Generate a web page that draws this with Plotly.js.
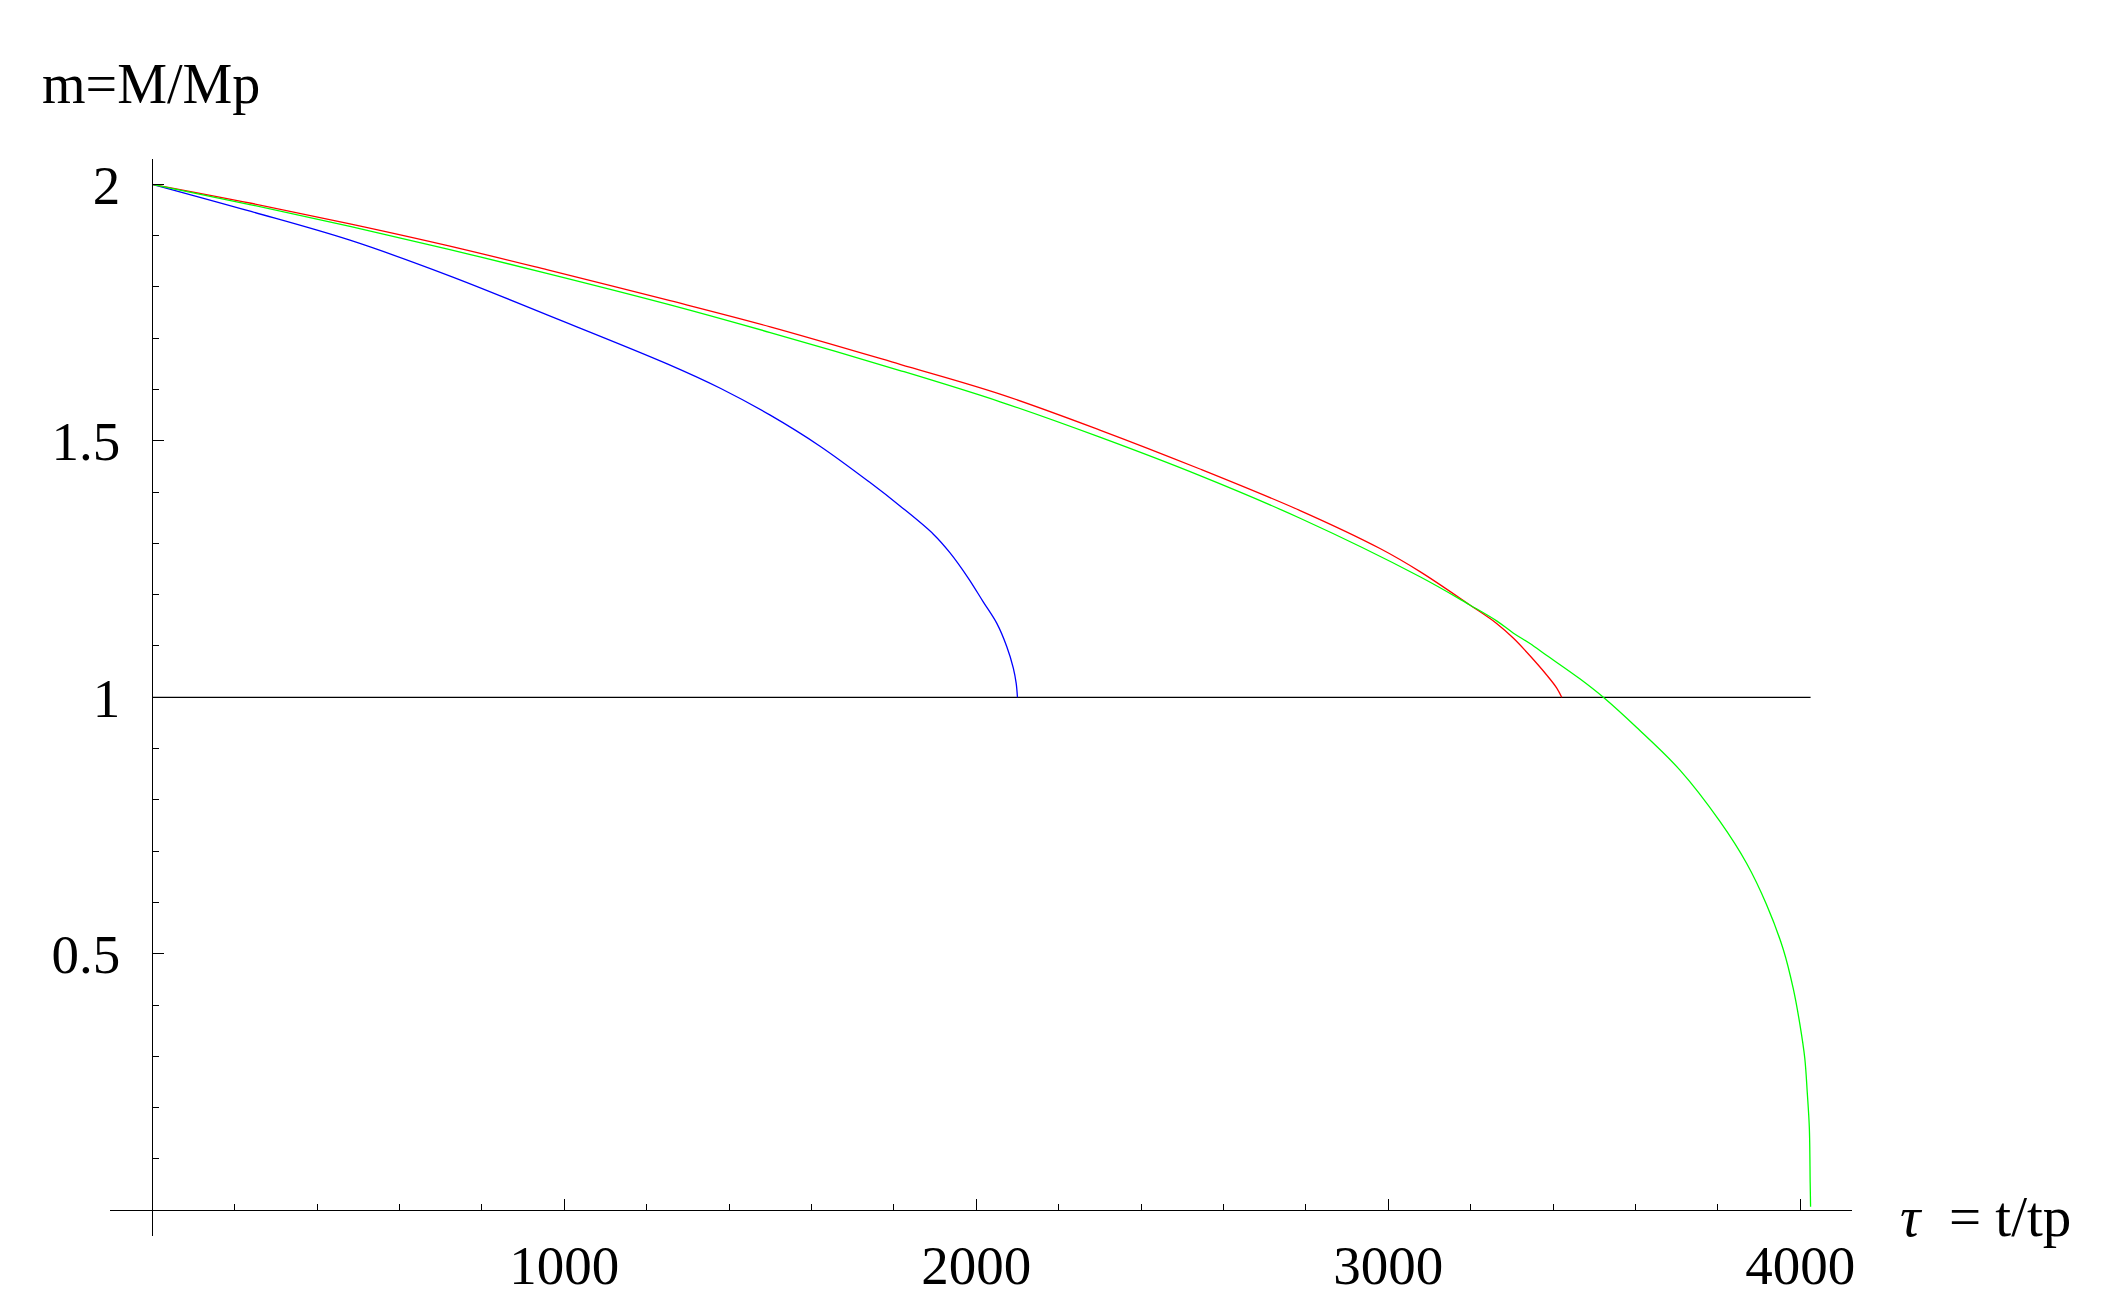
<!DOCTYPE html>
<html>
<head>
<meta charset="utf-8">
<script src="https://cdn.plot.ly/plotly-3.0.1.min.js"></script>
<style>
  html, body { margin: 0; padding: 0; background: #fff; }
  #plot { width: 2101px; height: 1311px; }
</style>
</head>
<body>
<div id="plot"></div>
<script>
// values: tau = t/tp, m = M/Mp
var tauBlue = [0, 240, 480, 720, 960, 1250, 1380, 1500, 1620, 1740, 1815, 1896, 1936, 1981, 2017, 2050, 2074, 2090, 2097, 2100];
var mBlue   = [2.000, 1.947, 1.891, 1.822, 1.745, 1.650, 1.602, 1.550, 1.490, 1.420, 1.373, 1.318, 1.282, 1.232, 1.186, 1.144, 1.099, 1.057, 1.027, 1.000];

var tauRed = [0, 240, 480, 720, 960, 1257, 1500, 1815, 2058, 2300, 2543, 2786, 2980, 3077, 3198, 3263, 3304, 3344, 3384, 3409, 3421];
var mRed   = [2.000, 1.963, 1.923, 1.880, 1.833, 1.773, 1.722, 1.649, 1.591, 1.521, 1.445, 1.364, 1.290, 1.245, 1.180, 1.144, 1.115, 1.081, 1.044, 1.018, 1.000];

var tauGreen = [0, 240, 480, 720, 960, 1257, 1500, 1815, 2058, 2300, 2543, 2786, 3077, 3198, 3263, 3304, 3344, 3384, 3465, 3522,
                3603, 3708, 3805, 3870, 3918, 3959, 3983, 3999, 4011, 4017, 4022, 4024, 4025];
var mGreen   = [2.000, 1.960, 1.918, 1.873, 1.826, 1.765, 1.711, 1.637, 1.576, 1.507, 1.432, 1.349, 1.235, 1.180, 1.149, 1.125, 1.105, 1.082, 1.036, 1.000,
                0.941, 0.858, 0.758, 0.676, 0.596, 0.508, 0.432, 0.363, 0.296, 0.229, 0.161, 0.054, 0.007];

var tauOne = [0, 4025];
var mOne   = [1, 1];

var xTicks = [1000, 2000, 3000, 4000];
var yTicks = [0.5, 1, 1.5, 2];

var serif = "Liberation Serif, Times New Roman, serif";

function curve(x, y, color, shape) {
    return {
        x: x, y: y, type: "scatter", mode: "lines",
        line: { color: color, width: 1.3, shape: shape, smoothing: 1 },
        hoverinfo: "skip"
    };
}

var plotData = [
    curve(tauOne, mOne, "#000000", "linear"),
    curve(tauBlue, mBlue, "#0000ff", "spline"),
    curve(tauRed, mRed, "#ff0000", "spline"),
    curve(tauGreen, mGreen, "#00ff00", "spline")
];

var layout = {
    width: 2101,
    height: 1311,
    margin: { l: 0, r: 0, t: 0, b: 0 },
    paper_bgcolor: "#ffffff",
    plot_bgcolor: "#ffffff",
    showlegend: false,
    font: { family: serif, color: "#000000" },
    xaxis: {
        domain: [0.05236, 0.88134],
        range: [-102.4, 4124.8],
        anchor: "free",
        position: 0.0774,
        showline: true, linecolor: "#000000", linewidth: 1,
        showgrid: false, zeroline: false,
        tickmode: "array", tickvals: xTicks,
        ticks: "inside", ticklen: 11, tickwidth: 1, tickcolor: "#000000",
        minor: { tickmode: "linear", tick0: 0, dtick: 200, ticks: "inside", ticklen: 6, tickwidth: 1, tickcolor: "#000000", showgrid: false },
        tickfont: { family: serif, size: 55, color: "#000000" },
        ticklabelstandoff: 7
    },
    yaxis: {
        domain: [0.05744, 0.87849],
        range: [-0.0495, 2.0487],
        anchor: "free",
        position: 0.07249,
        showline: true, linecolor: "#000000", linewidth: 1,
        showgrid: false, zeroline: false,
        tickmode: "array", tickvals: yTicks, ticktext: ["0.5", "1", "1.5", "2"],
        ticks: "inside", ticklen: 11, tickwidth: 1, tickcolor: "#000000",
        minor: { tickmode: "linear", tick0: 0, dtick: 0.1, ticks: "inside", ticklen: 6, tickwidth: 1, tickcolor: "#000000", showgrid: false },
        tickfont: { family: serif, size: 55, color: "#000000" },
        ticklabelstandoff: 21
    },
    annotations: [
        { text: "m=M/Mp", xref: "paper", yref: "paper", x: 40 / 2101, y: 1 - 84 / 1311,
          xanchor: "left", yanchor: "middle", showarrow: false, font: { family: serif, size: 56, color: "#000000" } },
        { text: "<i>τ</i>&nbsp; = t/tp", xref: "paper", yref: "paper", x: 1898 / 2101, y: 1 - 1216 / 1311,
          xanchor: "left", yanchor: "middle", showarrow: false, font: { family: serif, size: 57, color: "#000000" } }
    ]
};

Plotly.newPlot("plot", plotData, layout, { staticPlot: true });
</script>
</body>
</html>
